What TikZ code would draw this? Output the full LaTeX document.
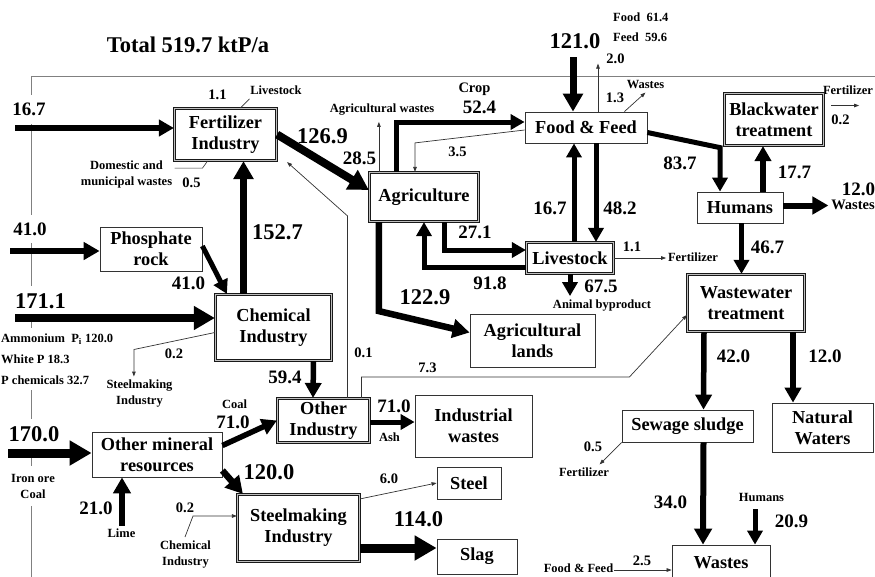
\documentclass[tikz,border=0pt]{standalone}
\usepackage{fontspec}
\setmainfont{Liberation Serif}
\usetikzlibrary{arrows.meta,calc,positioning}
\newcommand{\fbig}{\fontsize{22.5}{24}\selectfont\bfseries}
\newcommand{\fmid}{\fontsize{19}{21}\selectfont\bfseries}
\newcommand{\fsml}{\fontsize{14.5}{16}\selectfont\bfseries}
\newcommand{\ftxt}{\fontsize{12.5}{16}\selectfont\bfseries}
\newcommand{\fproc}{\fontsize{18.3}{21}\selectfont\bfseries}
\begin{document}
\begin{tikzpicture}[x=1pt,y=-1pt,
    pflow/.style={line width=#1, -{Triangle[length=4pt 2,width=4pt 2.2]}},
    thinflow/.style={draw=black!80, line width=0.7pt, -{Triangle[length=5pt,width=3.6pt]}},
    leader/.style={draw=black!80, line width=0.6pt},
    procbox/.style={draw=black!90, line width=1.2pt, double=gray!50, double distance=1pt,
      fill=white, align=center, font=\fproc, inner sep=0pt},
    stockbox/.style={draw=black!80, line width=0.8pt, fill=white, align=center,
      font=\fproc, inner sep=0pt},
    sysline/.style={draw=black!50, line width=0.9pt},
    lbig/.style={font=\fbig, inner sep=1pt},
    lmid/.style={font=\fmid, inner sep=1pt},
    lsml/.style={font=\fsml, inner sep=1pt},
    ltxt/.style={font=\ftxt, inner sep=1pt, align=center},
    gapfill/.style={fill=white, inner ysep=8pt}]
  \useasboundingbox (0,0) rectangle (875,576);
  % System boundary
  \draw[sysline] (31,590) -- (31,76) -- (880,76);

  % Labels
  \node[lbig] (vtotal) at (188,45) {Total 519.7 ktP/a};
  \node[lsml] (v11a) at (217.5,94.5) {1.1};
  \node[ltxt] (tlive) at (276,90.5) {Livestock};
  \node[lmid, gapfill] (v167a) at (29,109.5) {16.7};
  \node[ltxt] (tdom) at (126.5,174) {Domestic and\\municipal wastes};
  \node[lsml] (v05a) at (191.5,182.5) {0.5};
  \node[lbig] (v1269) at (322.5,136) {126.9};
  \node[lmid] (v285) at (359.5,158) {28.5};
  \node[ltxt] (tagw) at (382,110) {Agricultural wastes};
  \node[lsml] (tcrop) at (474.5,89) {Crop};
  \node[lmid] (v524) at (479.5,107) {52.4};
  \node[lsml] (v35) at (457.5,152) {3.5};
  \node[lbig] (v1210) at (575,41.5) {121.0};
  \node[ltxt, anchor=west] (tfood) at (612,17) {Food\enspace61.4};
  \node[ltxt, anchor=west] (tfeed) at (612,37.5) {Feed\enspace59.6};
  \node[lsml] (v20) at (615.5,59) {2.0};
  \node[lsml] (v13) at (615,97.5) {1.3};
  \node[ltxt] (twas1) at (645.5,84) {Wastes};
  \node[lmid] (v837) at (680,163) {83.7};
  \node[lmid] (v177) at (794.5,172.5) {17.7};
  \node[ltxt] (tfer1) at (848,90) {Fertilizer};
  \node[lsml] (v02a) at (840.5,120) {0.2};
  \node[lmid] (v120a) at (858.5,189) {12.0};
  \node[lsml] (twas2) at (853,205) {Wastes};
  \node[lmid] (v167b) at (550,208.5) {16.7};
  \node[lmid] (v482) at (620,208.5) {48.2};
  \node[lmid] (v271) at (475,232) {27.1};
  \node[lmid] (v918) at (490,283) {91.8};
  \node[lsml] (v11b) at (632,246.5) {1.1};
  \node[ltxt] (tfer2) at (693,257) {Fertilizer};
  \node[lmid] (v675) at (601,286) {67.5};
  \node[ltxt] (tanim) at (602,306) {Animal byproduct};
  \node[lmid] (v467) at (767.5,247.5) {46.7};
  \node[lbig] (v1229) at (425,297.5) {122.9};
  \node[lmid, gapfill] (v410a) at (30,229) {41.0};
  \node[lbig] (v1527) at (277.5,232) {152.7};
  \node[lmid] (v410b) at (188.5,283) {41.0};
  \node[lbig, gapfill] (v1711) at (40.5,301.5) {171.1};
  \node[ltxt, align=left, anchor=west, gapfill, inner ysep=6pt,
    font=\fontsize{12.5}{21}\selectfont\bfseries] (tammo) at (0,359)
    {Ammonium\ \ P\textsubscript{i} 120.0\\White P 18.3\\P chemicals 32.7};
  \node[lsml] (v02b) at (174,354) {0.2};
  \node[ltxt] (tsteel1) at (139.5,394) {Steelmaking\\Industry};
  \node[lsml] (v01) at (363.5,352.5) {0.1};
  \node[lmid] (v594) at (285,377.5) {59.4};
  \node[lsml] (v73) at (427.5,367.5) {7.3};
  \node[lmid] (v710a) at (394,406) {71.0};
  \node[ltxt] (tash) at (389.5,437) {Ash};
  \node[ltxt] (tcoal) at (234.5,404) {Coal};
  \node[lmid] (v710b) at (233,422.5) {71.0};
  \node[lbig, gapfill] (v1700) at (34,434.5) {170.0};
  \node[ltxt, gapfill] (tiron) at (33,486) {Iron ore\\Coal};
  \node[lbig] (v1200) at (269,472.5) {120.0};
  \node[lmid] (v210) at (96,508) {21.0};
  \node[ltxt] (tlime) at (121.5,533.5) {Lime};
  \node[lsml] (v02c) at (185,508) {0.2};
  \node[ltxt] (tchem2) at (185.5,555) {Chemical\\Industry};
  \node[lsml] (v60) at (389,479) {6.0};
  \node[lbig] (v1140) at (418.5,519.5) {114.0};
  \node[lmid] (v420) at (733.5,356) {42.0};
  \node[lmid] (v120b) at (825,356.5) {12.0};
  \node[lsml] (v05b) at (593,446.5) {0.5};
  \node[ltxt] (tfer3) at (584,472.5) {Fertilizer};
  \node[lmid] (v340) at (670.5,502.5) {34.0};
  \node[ltxt] (thum) at (761.5,497) {Humans};
  \node[lmid] (v209) at (791.5,521) {20.9};
  \node[lsml] (v25) at (642,560.5) {2.5};
  \node[ltxt] (tff) at (578.5,568.5) {Food \& Feed};

  % Processes
  \node[procbox, minimum width=102pt, minimum height=52pt] (fert) at (225.5,134.5) {Fertilizer\\Industry};
  \node[procbox, minimum width=109pt, minimum height=49pt] (agri) at (424,197) {Agriculture};
  \node[stockbox, minimum width=122pt, minimum height=31pt] (food) at (586,127.5) {Food \& Feed};
  \node[procbox, minimum width=87pt, minimum height=31pt] (live) at (570,258) {Livestock};
  \node[procbox, minimum width=99pt, minimum height=52pt] (black) at (774,119.5) {Blackwater\\treatment};
  \node[stockbox, minimum width=86pt, minimum height=31pt] (hum) at (740,207.5) {Humans};
  \node[stockbox, minimum width=102pt, minimum height=44pt] (phos) at (151,249) {Phosphate\\rock};
  \node[procbox, minimum width=116pt, minimum height=66pt] (chem) at (273.5,327.5) {Chemical\\Industry};
  \node[stockbox, minimum width=125pt, minimum height=53pt] (agland) at (532.5,340.5) {Agricultural\\lands};
  \node[procbox, minimum width=117pt, minimum height=57pt] (wwt) at (746,303) {Wastewater\\treatment};
  \node[procbox, minimum width=92pt, minimum height=44pt] (other) at (323.5,420.5) {Other\\Industry};
  \node[stockbox, minimum width=117pt, minimum height=62pt] (indw) at (473.5,426) {Industrial\\wastes};
  \node[stockbox, minimum width=130pt, minimum height=45pt] (mineral) at (157,454.5) {Other mineral\\resources};
  \node[procbox, minimum width=122pt, minimum height=67pt] (steelind) at (298.5,528) {Steelmaking\\Industry};
  \node[stockbox, minimum width=64pt, minimum height=32pt] (steel) at (469,483) {Steel};
  \node[stockbox, minimum width=80pt, minimum height=35pt] (slag) at (477,556.5) {Slag};
  \node[stockbox, minimum width=131pt, minimum height=32pt] (sludge) at (687.5,426) {Sewage sludge};
  \node[stockbox, minimum width=101pt, minimum height=49pt] (natw) at (822.5,427.5) {Natural\\Waters};
  \node[stockbox, minimum width=98pt, minimum height=36pt] (wastes) at (721,563) {Wastes};

  % Free ends
  \coordinate (src167) at (15,128);
  \coordinate (src410) at (10,251);
  \coordinate (src1711) at (15,318);
  \coordinate (src1700) at (8,453);
  \coordinate (src1210) at (573,57);
  \coordinate (srclime) at (122,526);
  \coordinate (srcchem) at (185,537);
  \coordinate (srchum) at (755,509);
  \coordinate (srcff) at (614,570);

  % Leaders
  \draw[leader] ($(fert.north)+(15,0)$) -- ++(9,-9);
  \draw[leader] ($(fert.south)+(-18,0)$) -- ++(-5,7) -- ++(-28,0);

  % Flows into the system
  \draw[pflow=5.5pt] (src167) -- (src167 -| fert.west);
  \draw[pflow=6pt] (src410) -- (src410 -| phos.west);
  \draw[pflow=8.5pt] (src1711) -- (src1711 -| chem.west);
  \draw[pflow=9pt] (src1700) -- (src1700 -| mineral.west);
  \draw[pflow=7pt] (src1210) -- (src1210 |- food.north);
  \draw[pflow=6pt] (srclime) -- (srclime |- mineral.south);

  % Industry
  \draw[pflow=8pt] (fert.east) -- ($(agri.west)+(0,-7)$);
  \draw[pflow=7pt] ($(chem.north)+(-30,0)$) -- ($(fert.south)+(18,0)$);
  \draw[thinflow] ($(other.north)+(24,0)$) -- ++(0,-182) -- ($(fert.south east)+(10,1)$);
  \draw[pflow=5pt] ($(phos.east)+(0,-3)$) -- ($(chem.north west)+(12,0)$);
  \draw[thinflow] ($(chem.west)+(0,5)$) -- ++(-81,17) -- ++(0,27);
  \draw[pflow=5.5pt] ($(chem.south)+(40,0)$) -- ($(other.north)+(-10.5,0)$);
  \draw[thinflow] ($(other.north)+(38,0)$) -- ++(0,-21) -- ++(268,0) -- ($(wwt.west)+(0,12)$);
  \draw[pflow=5pt] ($(other.east)+(0,1.5)$) -- ($(indw.west)+(0,-4)$);
  \draw[pflow=5.5pt] ($(mineral.east)+(0,-9)$) -- (other.west);
  \draw[pflow=6.5pt] ($(mineral.east)+(0,16)$) -- ($(steelind.north west)+(6,0)$);
  \draw[thinflow] (srcchem) -- ++(8,-21) -- ($(steelind.west)+(0,-12)$);
  \draw[thinflow] ($(steelind.north east)+(0,5)$) -- (steel.west);
  \draw[pflow=9pt] ($(steelind.east)+(0,20)$) -- ($(slag.west)+(0,-8.5)$);

  % Agriculture and food
  \draw[thinflow] ($(agri.north west)+(10,0)$) -- ++(0,-50);
  \draw[pflow=5pt] ($(agri.north west)+(28,0)$) |- ($(food.west)+(0,-5.5)$);
  \draw[thinflow] ($(food.west)+(0,2.5)$) -- ($(agri.north)+(-9,-29)$) -- ($(agri.north)+(-9,0)$);
  \draw[thinflow] ($(food.north)+(12,0)$) -- ++(0,-48);
  \draw[thinflow] ($(food.north east)+(-23,0)$) -- ++(21,-19);
  \draw[pflow=5pt] ($(live.north)+(4,0)$) -- ($(food.south)+(-12,0)$);
  \draw[pflow=5pt] ($(food.south)+(10,0)$) -- ($(live.north)+(26,0)$);
  \draw[pflow=5pt] ($(agri.south)+(20,0)$) |- ($(live.west)+(0,-8)$);
  \draw[pflow=5pt] ($(live.west)+(0,9)$) -| (agri.south);
  \draw[thinflow] (live.east) -- ++(52,0);
  \draw[pflow=5pt] (live.south) -- ++(0,22);
  \draw[pflow=6.5pt] ($(agri.south west)+(10,0)$) -- ++(0,89) -- ($(agland.west)+(0,-8)$);

  % Humans and water
  \draw[pflow=5pt] ($(food.east)+(0,5)$) -- ($(hum.north)+(-20,-44)$) -- ($(hum.north)+(-20,0)$);
  \draw[pflow=5.5pt] ($(hum.north)+(23,0)$) -- ($(black.south)+(-11,0)$);
  \draw[thinflow] ($(black.east)+(7,-14)$) -- ++(28,0);
  \draw[pflow=6pt] ($(hum.east)+(0,-2)$) -- ++(45,0);
  \draw[pflow=5pt] ($(hum.south)+(1.5,0)$) -- ($(wwt.north)+(-4.5,0)$);
  \draw[pflow=5.5pt] ($(wwt.south)+(-42,0)$) -- ($(sludge.north)+(16,0)$);
  \draw[pflow=5.5pt] ($(wwt.south)+(47,0)$) -- ($(natw.north)+(-29.5,0)$);
  \draw[thinflow] (sludge.south west) -- ++(-22,22);
  \draw[pflow=6pt] ($(sludge.south)+(16,0)$) -- ($(wastes.north)+(-18,0)$);
  \draw[pflow=5pt] (srchum) -- (srchum |- wastes.north);
  \draw[thinflow] (srcff) -- (srcff -| wastes.west);
\end{tikzpicture}
\end{document}
